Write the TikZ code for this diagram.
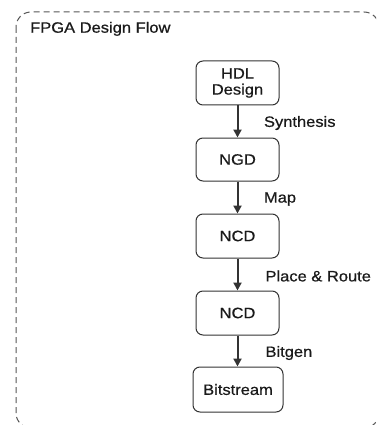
\documentclass[tikz,border=0pt]{standalone}
\usepackage{fontspec}
\setmainfont{Liberation Sans}[FakeStretch=1.1, FakeBold=0.7]
\usetikzlibrary{arrows.meta}
\definecolor{ink}{HTML}{1A1A1A}
\definecolor{edgecol}{HTML}{333333}
\definecolor{framecol}{HTML}{555555}
\begin{document}
\begin{tikzpicture}[x=1pt,y=-1pt,
  every node/.style={font=\fontsize{15}{17}\selectfont, text=ink},
  stepbox/.style={draw=edgecol, line width=1pt, rounded corners=7pt, minimum width=83pt, minimum height=44pt, align=center, inner sep=2pt},
  flowarrow/.style={draw=edgecol, line width=2pt, -{Triangle[length=8pt,width=8pt]}},
  edgelabel/.style={anchor=west, inner sep=0pt, xshift=25.5pt}]
\useasboundingbox (0,0) rectangle (376,425);
\clip (0,0) rectangle (376,425);
\draw[framecol, line width=1pt, dash pattern=on 6pt off 4pt, rounded corners=15pt] (16,12) rectangle (379,428);
\node[anchor=base west, inner sep=0pt] (title) at (30,32.7) {FPGA Design Flow};
\node[stepbox, font=\fontsize{15}{16}\selectfont] (hdl) at (237.5,83) {HDL\\Design};
\node[stepbox, minimum height=43pt] (ngd) at (237.5,159.5) {NGD};
\node[stepbox] (ncda) at (237.5,236) {NCD};
\node[stepbox] (ncdb) at (237.5,313) {NCD};
\node[stepbox, minimum width=90pt, minimum height=45pt] (bit) at (238,389.5) {Bitstream};
\draw[flowarrow] (hdl) -- node[edgelabel, yshift=-1.5pt] {Synthesis} (ngd);
\draw[flowarrow] (ngd) -- node[edgelabel, yshift=-1.5pt] {Map} (ncda);
\draw[flowarrow] (ncda) -- node[edgelabel, xshift=1.5pt, yshift=-1.5pt] {Place \& Route} (ncdb);
\draw[flowarrow] (ncdb) -- node[edgelabel, xshift=1.5pt, yshift=-2pt] {Bitgen} (bit.north -| ncdb);
\end{tikzpicture}
\end{document}
